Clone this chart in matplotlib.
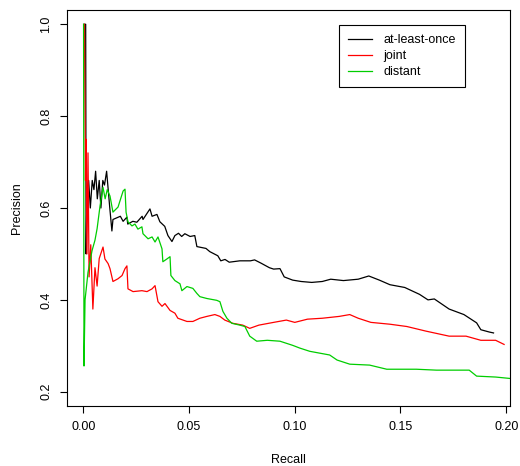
import numpy as np
import matplotlib.pyplot as plt

plt.rcParams['font.family'] = ['Liberation Sans', 'DejaVu Sans']
plt.rcParams['font.size'] = 9

# at-least-once curve (recall, precision)
alo_recall = [0.0003, 0.0011, 0.0013, 0.0017, 0.0025, 0.0033, 0.0042, 0.0050, 0.0058,
              0.0066, 0.0075, 0.0083, 0.0092, 0.0100, 0.0110, 0.0125, 0.0135, 0.0140,
              0.0175, 0.0188, 0.0206, 0.0210, 0.0234, 0.0253, 0.0278, 0.0282, 0.0315,
              0.0325, 0.0348, 0.0362, 0.0385, 0.0400, 0.0419, 0.0433, 0.0450, 0.0465,
              0.0480, 0.0505, 0.0527, 0.0537, 0.0580, 0.0598, 0.0636, 0.0650, 0.0670,
              0.0690, 0.0740, 0.0790, 0.0810, 0.0840, 0.0880, 0.0900, 0.0930, 0.0950,
              0.0990, 0.1030, 0.1080, 0.1130, 0.1170, 0.1230, 0.1300, 0.1350, 0.1400,
              0.1450, 0.1520, 0.1590, 0.1630, 0.1660, 0.1730, 0.1800, 0.1860, 0.1880,
              0.1920, 0.1940]
alo_precision = [1.0, 1.0, 0.50, 0.64, 0.66, 0.60, 0.66, 0.64, 0.68,
                 0.62, 0.66, 0.60, 0.66, 0.65, 0.68, 0.60, 0.55, 0.575,
                 0.582, 0.571, 0.580, 0.565, 0.571, 0.569, 0.582, 0.575, 0.598,
                 0.582, 0.586, 0.570, 0.560, 0.540, 0.527, 0.540, 0.545, 0.538,
                 0.544, 0.538, 0.540, 0.516, 0.512, 0.505, 0.496, 0.485, 0.488,
                 0.482, 0.485, 0.485, 0.487, 0.480, 0.470, 0.467, 0.468, 0.450,
                 0.443, 0.440, 0.438, 0.440, 0.445, 0.442, 0.445, 0.452, 0.443,
                 0.433, 0.427, 0.412, 0.400, 0.402, 0.380, 0.368, 0.350, 0.335,
                 0.330, 0.328]

# joint curve
joint_recall = [0.0005, 0.0010, 0.0012, 0.0017, 0.0022, 0.0027, 0.0035, 0.0045, 0.0055,
                0.0065, 0.0075, 0.0093, 0.0102, 0.0117, 0.0126, 0.0140, 0.0164, 0.0183,
                0.0197, 0.0206, 0.0211, 0.0235, 0.0277, 0.0301, 0.0325, 0.0339, 0.0353,
                0.0372, 0.0386, 0.0410, 0.0433, 0.0447, 0.0490, 0.0518, 0.0551, 0.0584,
                0.0622, 0.0646, 0.0669, 0.0707, 0.0754, 0.0787, 0.0830, 0.0900, 0.0960,
                0.1000, 0.1060, 0.1130, 0.1210, 0.1260, 0.1300, 0.1360, 0.1450, 0.1530,
                0.1620, 0.1730, 0.1810, 0.1880, 0.1950, 0.1990]
joint_precision = [1.0, 0.66, 0.75, 0.50, 0.72, 0.45, 0.52, 0.38, 0.47,
                   0.43, 0.49, 0.515, 0.489, 0.479, 0.468, 0.440, 0.446, 0.453,
                   0.468, 0.474, 0.424, 0.418, 0.420, 0.418, 0.424, 0.431, 0.396,
                   0.386, 0.392, 0.377, 0.371, 0.360, 0.353, 0.353, 0.360, 0.364,
                   0.368, 0.364, 0.356, 0.349, 0.345, 0.338, 0.345, 0.351, 0.356,
                   0.351, 0.358, 0.360, 0.364, 0.368, 0.360, 0.351, 0.347, 0.342,
                   0.332, 0.321, 0.321, 0.312, 0.312, 0.303]

# distant curve
dist_recall = [0.0001, 0.0003, 0.0008, 0.0022, 0.0041, 0.0055, 0.0065, 0.0079, 0.0093,
               0.0103, 0.0113, 0.0126, 0.0140, 0.0164, 0.0188, 0.0197, 0.0202, 0.0211,
               0.0230, 0.0244, 0.0258, 0.0277, 0.0282, 0.0306, 0.0325, 0.0339, 0.0353,
               0.0372, 0.0376, 0.0395, 0.0410, 0.0414, 0.0433, 0.0457, 0.0466, 0.0490,
               0.0518, 0.0537, 0.0551, 0.0584, 0.0631, 0.0646, 0.0660, 0.0679, 0.0702,
               0.0740, 0.0764, 0.0787, 0.0820, 0.0870, 0.0930, 0.0990, 0.1024, 0.1071,
               0.1165, 0.1200, 0.1260, 0.1354, 0.1435, 0.1575, 0.1670, 0.1825, 0.1860,
               0.1950, 0.2016]
dist_precision = [1.0, 0.256, 0.40, 0.46, 0.507, 0.53, 0.555, 0.605, 0.645,
                  0.62, 0.64, 0.626, 0.591, 0.602, 0.637, 0.641, 0.591, 0.570,
                  0.561, 0.565, 0.554, 0.559, 0.544, 0.533, 0.537, 0.526, 0.537,
                  0.511, 0.483, 0.489, 0.494, 0.453, 0.442, 0.435, 0.420, 0.429,
                  0.425, 0.414, 0.407, 0.403, 0.399, 0.396, 0.375, 0.360, 0.349,
                  0.345, 0.342, 0.321, 0.310, 0.312, 0.310, 0.301, 0.295, 0.288,
                  0.280, 0.269, 0.260, 0.258, 0.249, 0.249, 0.247, 0.247, 0.234,
                  0.232, 0.229]

x_ticks = [0.00, 0.05, 0.10, 0.15, 0.20]
y_ticks = [0.2, 0.4, 0.6, 0.8, 1.0]

fig = plt.figure(figsize=(5.2, 4.66), dpi=100)
ax = fig.add_axes([0.1294, 0.1288, 0.8514, 0.8497])

ax.plot(alo_recall, alo_precision, color='black', lw=0.9, label='at-least-once')
ax.plot(joint_recall, joint_precision, color='#FF0000', lw=0.9, label='joint')
ax.plot(dist_recall, dist_precision, color='#00CD00', lw=0.9, label='distant')

ax.set_xlim(-0.0076, 0.2018)
ax.set_ylim(0.169, 1.031)
ax.set_xticks(x_ticks)
ax.set_xticklabels(['%.2f' % v for v in x_ticks])
ax.set_yticks(y_ticks)
ax.set_yticklabels(['%.1f' % v for v in y_ticks], rotation=90, va='center')
ax.tick_params(direction='out', length=5, width=0.8, pad=6)
for s in ax.spines.values():
    s.set_linewidth(0.8)

ax.set_xlabel('Recall', labelpad=15)
ax.set_ylabel('Precision', labelpad=12)

ax.legend(loc='upper right', bbox_to_anchor=(0.898, 0.962), fancybox=False,
          edgecolor='black', framealpha=1, handlelength=1.9, handletextpad=0.9,
          labelspacing=0.3, borderpad=0.75, borderaxespad=0)
ax.get_legend().get_frame().set_linewidth(0.8)

fig.savefig('out.png', dpi=100)
